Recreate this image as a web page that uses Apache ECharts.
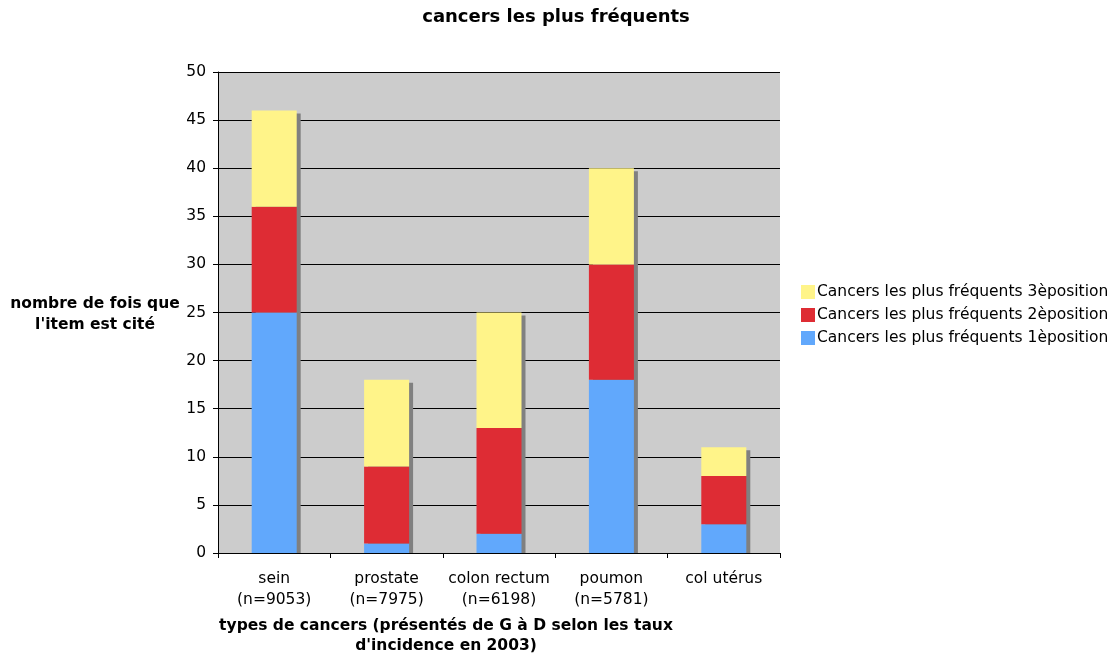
<!DOCTYPE html>
<html><head><meta charset="utf-8">
<script src="https://cdn.jsdelivr.net/npm/echarts@6/dist/echarts.min.js"></script>
<style>html,body{margin:0;padding:0;background:#fff}#c{width:1112px;height:656px}</style>
</head><body><div id="c"></div>
<script>
const categories = ['sein\n(n=9053)', 'prostate\n(n=7975)', 'colon rectum\n(n=6198)', 'poumon\n(n=5781)', 'col utérus'];
const pos1 = [25, 1, 2, 18, 3];
const pos2 = [11, 8, 11, 12, 5];
const pos3 = [10, 9, 12, 10, 3];
const seriesNames = ['Cancers les plus fréquents 1èposition', 'Cancers les plus fréquents 2èposition', 'Cancers les plus fréquents 3èposition'];
const yTicks = [0, 5, 10, 15, 20, 25, 30, 35, 40, 45, 50];
const totals = pos1.map((v, i) => v + pos2[i] + pos3[i]);

const FONT = 'DejaVu Sans';
const FS = 15.5;
const BAR_W = 45;
const chart = echarts.init(document.getElementById('c'));
chart.setOption({
  animation: false,
  textStyle: { fontFamily: FONT },
  title: { text: 'cancers les plus fréquents', left: 'center', top: 3,
    textStyle: { fontFamily: FONT, fontSize: 18, fontWeight: 'bold', color: '#000' } },
  legend: {
    left: 796, top: 279, orient: 'vertical', itemWidth: 14, itemHeight: 14, itemGap: 7,
    icon: 'rect', data: [seriesNames[2], seriesNames[1], seriesNames[0]],
    textStyle: { fontFamily: FONT, fontSize: FS, color: '#000', lineHeight: 14, padding: [0, 0, 0, -3] }
  },
  grid: { left: 218, right: 332, top: 72, bottom: 103, show: true, backgroundColor: '#cccccc', borderWidth: 0 },
  xAxis: {
    type: 'category', data: categories,
    axisLine: { lineStyle: { color: '#000', width: 1 } },
    axisTick: { show: true, length: 5, interval: 0, lineStyle: { color: '#000' } },
    axisLabel: { fontFamily: FONT, fontSize: FS, color: '#000', lineHeight: 21, margin: 15, interval: 0 }
  },
  yAxis: {
    type: 'value', min: yTicks[0], max: yTicks[yTicks.length - 1], interval: 5,
    axisLine: { show: true, lineStyle: { color: '#000', width: 1 } },
    axisTick: { show: true, length: 5, lineStyle: { color: '#000' } },
    axisLabel: { fontFamily: FONT, fontSize: FS, color: '#000', margin: 12 },
    splitLine: { show: true, lineStyle: { color: '#000', width: 1 } }
  },
  graphic: [
    { type: 'text', x: 95, y: 314, style: { text: 'nombre de fois que\nl\'item est cité', fontFamily: FONT,
      fontSize: FS, fontWeight: 'bold', fill: '#000', align: 'center', verticalAlign: 'middle', lineHeight: 21 }, z: 10 },
    { type: 'text', x: 446, y: 636, style: { text: 'types de cancers (présentés de G à D selon les taux\nd\'incidence en 2003)',
      fontFamily: FONT, fontSize: FS, fontWeight: 'bold', fill: '#000', align: 'center', verticalAlign: 'middle', lineHeight: 20 }, z: 10 }
  ],
  series: [
    {
      type: 'custom', name: 'shadow', z: 1, silent: true,
      data: totals.map((t, i) => [i, t]),
      renderItem: function (params, api) {
        const top = api.coord([api.value(0), api.value(1)]);
        const base = api.coord([api.value(0), 0]);
        return { type: 'rect', shape: { x: top[0] - BAR_W / 2 + 4, y: top[1] + 3, width: BAR_W, height: base[1] - top[1] - 3 },
          style: { fill: '#808080' } };
      }
    },
    { name: seriesNames[0], type: 'bar', stack: 'a', data: pos1, barWidth: BAR_W, z: 3, itemStyle: { color: '#61a8fc' } },
    { name: seriesNames[1], type: 'bar', stack: 'a', data: pos2, barWidth: BAR_W, z: 3, itemStyle: { color: '#de2c34' } },
    { name: seriesNames[2], type: 'bar', stack: 'a', data: pos3, barWidth: BAR_W, z: 3, itemStyle: { color: '#fff489' } }
  ]
});
</script></body></html>
